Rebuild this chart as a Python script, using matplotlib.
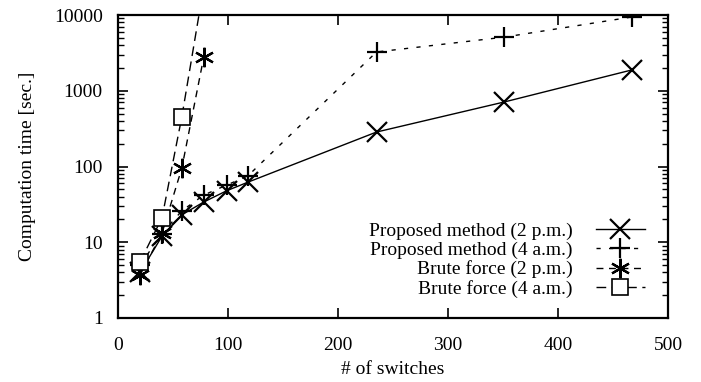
import matplotlib.pyplot as plt

plt.rcParams['font.family'] = ['Liberation Serif', 'DejaVu Serif']
plt.rcParams['font.size'] = 14

# values
prop_x = [20, 40, 58, 78, 99, 118, 235, 351, 467]
prop_2pm = [4.0, 12.0, 23, 34, 48, 62, 285, 710, 1880]
prop_4am = [5.0, 13.0, 26, 42, 57, 75, 3250, 5100, 9400]

brute_x = [20, 40, 58, 78]
brute_2pm = [3.7, 13.2, 95, 2800]
brute_4am = [5.5, 21, 450, 24000]

labels = ["Proposed method (2 p.m.)", "Proposed method (4 a.m.)",
          "Brute force (2 p.m.)", "Brute force (4 a.m.)"]

fig = plt.figure(figsize=(7.01, 3.82), dpi=100)
ax = fig.add_axes([118 / 701, 1 - 318 / 382, 550 / 701, 303 / 382])

ax.plot(prop_x, prop_2pm, color='k', lw=1, ls='-', marker='x',
        ms=14, mew=1.6, label=labels[0])
ax.plot(prop_x, prop_4am, color='k', lw=1, ls=(0, (3, 6)), marker='+',
        ms=15, mew=1.6, label=labels[1])
ax.plot(brute_x, brute_2pm, color='k', lw=1, ls=(0, (5, 4)), marker=(6, 2, 0),
        ms=14, mew=1.6, label=labels[2])
ax.plot(brute_x, brute_4am, color='k', lw=1, ls=(0, (7, 4)), marker='s',
        ms=12, mew=1.2, mfc='white', label=labels[3])

ax.set_yscale('log')
ax.set_xlim(0, 500)
ax.set_ylim(1, 10000)
ax.set_xticks([0, 100, 200, 300, 400, 500])
ax.set_yticks([1, 10, 100, 1000, 10000])
ax.set_yticklabels(["1", "10", "100", "1000", "10000"])
ax.tick_params(which='both', direction='in', top=True, right=True)
ax.tick_params(which='major', length=7, width=1.2)
ax.tick_params(axis='y', which='major', pad=11)
ax.tick_params(axis='x', which='major', pad=14)
ax.tick_params(which='minor', length=4, width=1)
ax.tick_params(axis='x', which='minor', bottom=False, top=False)
for s in ax.spines.values():
    s.set_linewidth(1.6)

ax.set_xlabel("# of switches", labelpad=5)
ax.set_ylabel("Computation time [sec.]", labelpad=13)

leg = ax.legend(loc='lower right', bbox_to_anchor=(0.975, 0.034),
                frameon=False, markerfirst=False, borderpad=0,
                labelspacing=0.08, handlelength=2.5, handletextpad=1.2,
                fontsize=14)

fig.savefig("out.png", dpi=100)
